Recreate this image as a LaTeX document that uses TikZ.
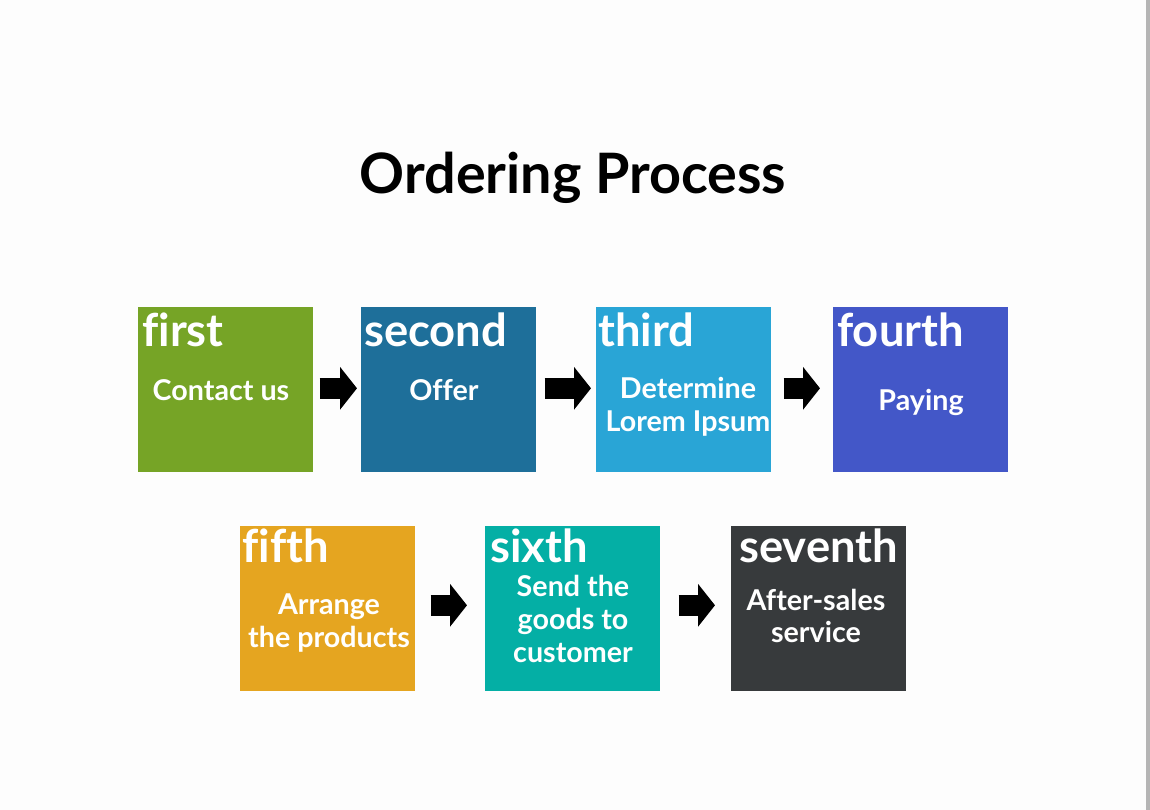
\documentclass[tikz,border=0pt]{standalone}
\usepackage{fontspec}
\setmainfont{Lato}[Ligatures=CommonOff]
\usetikzlibrary{arrows.meta}
\definecolor{bg}{HTML}{FDFDFD}
\definecolor{edge}{HTML}{B5B5B5}
\definecolor{cA}{HTML}{76A426}
\definecolor{cB}{HTML}{1E6F9A}
\definecolor{cC}{HTML}{29A5D6}
\definecolor{cD}{HTML}{4357C8}
\definecolor{cE}{HTML}{E5A520}
\definecolor{cF}{HTML}{04AFA5}
\definecolor{cG}{HTML}{373A3C}
\tikzset{
  card/.style={fill=#1, draw=none, inner sep=0pt, minimum width=131.25pt, minimum height=123.75pt, anchor=north west},
  tag/.style={text=white, font=\fontsize{34}{34}\selectfont\bfseries, inner sep=0pt, anchor=base west},
  body/.style={text=white, font=\fontsize{21.5}{24.5}\selectfont\bfseries, inner sep=0pt, align=center},
  flow/.style={line width=15.75pt, line cap=butt, -{Triangle[length=12.75pt,width=31.5pt]}, black},
}
\begin{document}
\begin{tikzpicture}[x=0.75pt,y=-0.75pt]
\fill[bg] (0,0) rectangle (1150,810);
\fill[edge] (1146,0) rectangle (1150,810);
\useasboundingbox (0,0) rectangle (1150,810);
\node[font=\fontsize{41.8}{42}\selectfont\bfseries, inner sep=0pt, anchor=base] (title) at (573,193) {Ordering Process};
% row 1
\node[card=cA] (b1) at (138,307) {};
\node[card=cB] (b2) at (361,307) {};
\node[card=cC] (b3) at (596,307) {};
\node[card=cD] (b4) at (833,307) {};
% row 2
\node[card=cE] (b5) at (240,526) {};
\node[card=cF] (b6) at (485,526) {};
\node[card=cG] (b7) at (731,526) {};
% tags
\node[tag] (t1) at (142,346) {first};
\node[tag] (t2) at (364,346) {second};
\node[tag] (t3) at (598,346) {third};
\node[tag] (t4) at (837,346) {fourth};
\node[tag] (t5) at (242,562) {fifth};
\node[tag] (t6) at (490,562) {sixth};
\node[tag] (t7) at (739,562) {seventh};
% bodies
\node[body] (d1) at (221,390) {Contact us};
\node[body] (d2) at (444,390) {Offer};
\node[body] (d3) at (688,407) {Determine\\Lorem Ipsum};
\node[body] (d4) at (921,402) {Paying};
\node[body] (d5) at (329,623) {Arrange\\the products};
\node[body] (d6) at (573,619) {Send the\\goods to\\customer};
\node[body] (d7) at (816,616) {After-sales\\service};
% arrows
\draw[flow, shorten <=4.5pt, shorten >=3pt] ([yshift=1.1pt]b1.east) -- ([yshift=1.1pt]b2.west);
\draw[flow, shorten <=6pt, shorten >=3.75pt] ([yshift=1.1pt]b2.east) -- ([yshift=1.1pt]b3.west);
\draw[flow, shorten <=9pt, shorten >=9.75pt] ([yshift=1.1pt]b3.east) -- ([yshift=1.1pt]b4.west);
\draw[flow, shorten <=11.25pt, shorten >=13.5pt] ([yshift=2.6pt]b5.east) -- ([yshift=2.6pt]b6.west);
\draw[flow, shorten <=13.5pt, shorten >=12pt] ([yshift=2.6pt]b6.east) -- ([yshift=2.6pt]b7.west);
\end{tikzpicture}
\end{document}
